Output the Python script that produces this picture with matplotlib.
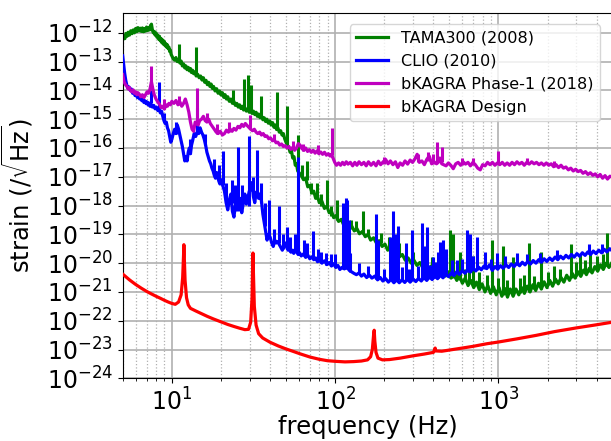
import matplotlib
matplotlib.use("Agg")
import matplotlib.pyplot as plt
import numpy as np

# all strain values are log10(strain / sqrt(Hz)), frequencies in Hz

# TAMA300 (2008) noise floor
tama_f = [5.0, 5.08, 5.16, 5.24, 5.32, 5.4, 5.5, 5.6, 5.7, 5.8, 5.9, 6.0, 6.1, 6.2, 6.3, 6.4,
          6.5, 6.6, 6.7, 6.8, 6.9, 7.0, 7.1, 7.2, 7.3, 7.4, 7.5, 7.6, 7.7, 7.8, 7.9, 8.0, 8.1,
          8.2, 8.3, 8.4, 8.5, 8.6, 8.7, 8.8, 8.9, 9.0, 9.1, 9.2, 9.3, 9.4, 9.5, 9.6, 9.7, 9.8,
          9.9, 10.0, 10.2, 10.4, 10.6, 10.8, 11.0, 11.2, 11.4, 11.6, 11.8, 12.0, 12.2, 12.4,
          12.6, 12.8, 13.0, 13.2, 13.4, 13.6, 13.8, 14.1, 14.4, 14.7, 15.0, 15.3, 15.6, 15.9,
          16.2, 16.5, 16.8, 17.1, 17.4, 17.7, 18.0, 18.4, 18.8, 19.2, 19.6, 20.0, 20.4, 20.8,
          21.2, 21.6, 22.0, 22.5, 23.0, 23.5, 24.0, 24.5, 25.0, 25.5, 26.0, 26.5, 27.0, 27.5,
          28.0, 28.6, 29.2, 29.8, 30.4, 31.0, 31.6, 32.2, 32.8, 33.4, 34.0, 34.7, 35.4, 36.1,
          36.8, 37.5, 38.2, 39.0, 39.8, 40.6, 41.4, 42.2, 43.0, 43.8, 44.6, 45.5, 46.4, 47.3,
          48.2, 49.1, 50.0, 51.0, 52.0, 53.0, 54.0, 55.0, 56.0, 57.0, 58.0, 59.0, 60.0, 62, 64,
          66, 68, 70, 72, 74, 76, 78, 80, 83, 86, 89, 92, 95, 98, 101, 105, 109, 113, 117, 121,
          126, 131, 136, 141, 147, 153, 159, 165, 172, 179, 186, 194, 202, 210, 219, 228, 238,
          248, 258, 269, 280, 292, 304, 317, 330, 344, 358, 373, 388, 404, 420, 437, 455, 474,
          493, 513, 534, 556, 578, 602, 626, 652, 678, 706, 734, 764, 795, 827, 861, 896, 932,
          970, 1009, 1050, 1093, 1137, 1183, 1231, 1281, 1333, 1387, 1443, 1502, 1563, 1626,
          1692, 1761, 1832, 1906, 1984, 2064, 2148, 2235, 2326, 2420, 2518, 2620, 2726, 2837,
          2952, 3071, 3196, 3325, 3460, 3600, 3746, 3898, 4056, 4220, 4391, 4569, 4754, 5000]
tama_h = [-12.25, -12.12, -12.2, -12.02, -12.12, -11.98, -12.08, -11.93, -12.03, -11.9, -12.0,
          -11.85, -11.96, -11.82, -11.93, -11.84, -11.95, -11.83, -11.96, -11.85, -11.94, -11.8,
          -11.92, -11.82, -11.9, -11.75, -11.7, -11.9, -12.0, -11.95, -12.08, -12.0, -12.15,
          -12.08, -12.22, -12.12, -12.28, -12.2, -12.35, -12.25, -12.4, -12.3, -12.45, -12.38,
          -12.5, -12.42, -12.55, -12.5, -12.65, -12.6, -12.75, -12.8, -12.9, -12.95, -12.86,
          -13.0, -12.95, -13.05, -12.98, -13.15, -13.08, -13.22, -13.15, -13.28, -13.2, -13.32,
          -13.24, -13.38, -13.3, -13.42, -13.36, -13.5, -13.44, -13.56, -13.5, -13.64, -13.56,
          -13.72, -13.65, -13.8, -13.72, -13.86, -13.78, -13.93, -13.86, -14.02, -13.94, -14.1,
          -14.02, -14.16, -14.08, -14.24, -14.15, -14.3, -14.22, -14.38, -14.3, -14.45, -14.38,
          -14.52, -14.45, -14.58, -14.5, -14.63, -14.55, -14.68, -14.6, -14.72, -14.64, -14.76,
          -14.68, -14.8, -14.72, -14.84, -14.76, -14.9, -14.82, -14.95, -14.88, -15.02, -14.95,
          -15.08, -15.0, -15.14, -15.06, -15.2, -15.12, -15.28, -15.2, -15.36, -15.3, -15.45,
          -15.4, -15.55, -15.5, -15.68, -15.8, -15.9, -15.98, -16.15, -16.1, -16.35, -16.3,
          -16.6, -16.55, -16.8, -16.85, -16.95, -17.1, -17.05, -17.35, -17.3, -17.55, -17.5,
          -17.75, -17.68, -17.9, -17.85, -18.1, -18.02, -18.25, -18.2, -18.42, -18.35, -18.55,
          -18.48, -18.68, -18.6, -18.78, -18.7, -18.88, -18.8, -18.98, -18.9, -19.08, -19.0,
          -19.2, -19.12, -19.3, -19.22, -19.42, -19.34, -19.55, -19.46, -19.66, -19.58, -19.78,
          -19.7, -19.9, -19.82, -20.0, -19.9, -20.08, -19.98, -20.15, -20.05, -20.22, -20.1,
          -20.3, -20.18, -20.35, -20.22, -20.45, -20.3, -20.52, -20.38, -20.6, -20.45, -20.7,
          -20.52, -20.78, -20.6, -20.85, -20.66, -20.92, -20.72, -21.0, -20.78, -21.05, -20.82,
          -21.1, -20.85, -21.15, -20.88, -21.18, -20.9, -21.15, -20.9, -21.1, -20.85, -21.05,
          -20.8, -21.0, -20.75, -20.95, -20.7, -20.9, -20.65, -20.85, -20.6, -20.8, -20.55,
          -20.72, -20.5, -20.66, -20.42, -20.6, -20.36, -20.52, -20.3, -20.46, -20.24, -20.4,
          -20.18, -20.34, -20.12, -20.28, -20.06, -20.22, -20.0, -20.15, -19.95]
# narrow lines on top of the TAMA300 floor: frequency, bottom, top
tama_spk_f = [11.0, 14.0, 23.7, 27.6, 29.3, 30.5, 35.0, 44.0, 50.8, 59.3, 63, 67.0, 71, 77.5,
              82, 89.0, 95, 103, 112, 125, 135, 148, 160, 190, 215, 245, 300, 340, 390, 430,
              470, 507, 528, 560, 580, 620, 660, 700, 760, 850, 920, 1000, 1060, 1130, 1230,
              1350, 1430, 1530, 1650, 1820, 2000, 2200, 2400, 2770, 3000, 3180, 3400, 3640,
              4000, 4400, 4650]
tama_spk_lo = [-12.95, -13.45, -14.4, -14.6, -14.7, -14.75, -14.9, -15.3, -15.9, -16.4, -17.0,
               -17.1, -17.6, -17.7, -18.0, -18.1, -18.35, -18.5, -18.65, -18.8, -18.9, -19.0,
               -19.05, -19.3, -19.5, -19.7, -20.0, -20.1, -20.2, -20.3, -20.4, -20.45, -20.5,
               -20.55, -20.6, -20.6, -20.7, -20.8, -20.85, -20.9, -21.0, -21.0, -21.1, -21.1,
               -21.1, -21.05, -21.0, -21.0, -20.9, -20.9, -20.75, -20.7, -20.6, -20.5, -20.45,
               -20.4, -20.35, -20.3, -20.25, -20.15, -20.1]
tama_spk_hi = [-12.4, -12.5, -14.0, -13.6, -13.45, -13.8, -14.2, -14.05, -14.55, -15.55,
               -16.6, -16.45, -17.2, -17.2, -17.6, -17.1, -18.0, -17.8, -18.3, -18.5, -18.55,
               -18.2, -18.8, -18.95, -19.1, -19.3, -19.6, -19.7, -19.8, -19.9, -19.95, -18.85,
               -19.0, -20.1, -19.6, -20.2, -20.2, -19.75, -20.3, -20.4, -19.2, -20.5, -19.4,
               -20.6, -19.8, -20.5, -20.4, -19.3, -20.45, -19.6, -20.3, -20.1, -20.2, -19.35,
               -19.95, -19.7, -19.9, -19.6, -19.75, -19.7, -18.95]

# CLIO (2010)
clio_f = [5.0, 5.07, 5.14, 5.22, 5.3, 5.38, 5.47, 5.56, 5.65, 5.75, 5.85, 5.95, 6.05, 6.15,
          6.25, 6.35, 6.45, 6.55, 6.65, 6.75, 6.85, 6.95, 7.05, 7.15, 7.25, 7.35, 7.45, 7.6,
          7.75, 7.9, 8.05, 8.2, 8.35, 8.5, 8.65, 8.8, 8.95, 9.1, 9.25, 9.4, 9.55, 9.7, 9.85,
          10.0, 10.2, 10.4, 10.6, 10.8, 11.0, 11.2, 11.4, 11.6, 11.8, 12.0, 12.2, 12.4, 12.6,
          12.8, 13.0, 13.2, 13.4, 13.7, 14.0, 14.3, 14.6, 14.9, 15.2, 15.5, 15.8, 16.1, 16.4,
          16.7, 17.0, 17.3, 17.6, 17.9, 18.2, 18.5, 18.8, 19.1, 19.4, 19.7, 20.0, 20.5, 21.0,
          21.5, 22.0, 22.5, 23.0, 23.5, 24.0, 24.5, 25.0, 25.6, 26.2, 26.8, 27.4, 28.0, 28.6,
          29.2, 29.8, 30.4, 31.0, 31.6, 32.2, 32.8, 33.4, 34.0, 34.7, 35.4, 36.1, 36.8, 37.5,
          38.3, 39.1, 40.0, 40.9, 41.8, 42.7, 43.6, 44.5, 45.5, 46.5, 47.5, 48.5, 49.5, 50.5,
          51.5, 52.5, 53.6, 54.7, 55.8, 57.0, 58.2, 59.4, 60.6, 62, 64, 66, 68, 70, 72, 74, 76,
          78, 80, 83, 86, 89, 92, 95, 98, 101, 104, 107, 110, 114, 118, 122, 126, 130, 135,
          140, 145, 150, 156, 162, 168, 175, 182, 189, 196, 204, 212, 220, 229, 238, 247, 257,
          267, 277, 288, 300, 312, 324, 337, 350, 364, 378, 393, 408, 424, 441, 458, 476, 495,
          514, 534, 555, 577, 600, 624, 648, 674, 700, 728, 756, 786, 817, 849, 882, 917, 953,
          990, 1030, 1070, 1112, 1156, 1201, 1248, 1297, 1348, 1401, 1456, 1513, 1572, 1634,
          1698, 1765, 1834, 1906, 1981, 2059, 2140, 2224, 2311, 2402, 2496, 2594, 2696, 2802,
          2912, 3026, 3145, 3268, 3397, 3530, 3669, 3813, 3963, 4118, 4280, 4448, 4623, 4804,
          5000]
clio_h = [-12.8, -13.1, -13.4, -13.65, -13.82, -13.92, -13.88, -14.0, -13.95, -14.1, -14.05,
          -14.18, -14.12, -14.25, -14.2, -14.3, -14.24, -14.36, -14.3, -14.42, -14.36, -14.46,
          -14.4, -14.5, -14.44, -14.55, -14.48, -14.58, -14.52, -14.64, -14.58, -14.7, -14.65,
          -14.78, -14.72, -14.9, -15.05, -15.15, -15.1, -15.3, -15.4, -15.6, -15.8, -15.7,
          -15.5, -15.35, -15.5, -15.2, -15.35, -15.55, -15.75, -15.95, -16.2, -16.45, -16.3,
          -16.45, -16.15, -16.0, -16.2, -15.9, -15.75, -15.5, -15.6, -15.45, -15.5, -15.3,
          -15.45, -15.55, -15.7, -15.9, -16.15, -16.3, -16.45, -16.55, -16.7, -16.8, -16.95,
          -17.05, -16.85, -17.0, -17.15, -17.25, -17.1, -17.3, -17.5, -17.9, -18.15, -17.8,
          -17.6, -18.2, -18.4, -18.0, -17.85, -18.1, -17.75, -18.25, -17.9, -17.6, -17.95,
          -17.75, -17.5, -17.45, -17.2, -17.7, -17.9, -17.55, -17.5, -17.75, -17.6, -17.85,
          -18.3, -18.6, -18.9, -19.2, -19.0, -19.1, -19.3, -19.42, -19.2, -19.3, -19.25,
          -19.35, -19.45, -19.55, -19.4, -19.3, -19.45, -19.55, -19.5, -19.62, -19.55, -19.66,
          -19.52, -19.62, -19.7, -19.64, -19.75, -19.68, -19.8, -19.72, -19.85, -19.78, -19.88,
          -19.82, -19.95, -19.88, -20.0, -19.92, -20.05, -19.98, -20.1, -20.02, -20.15, -20.08,
          -20.22, -20.15, -20.2, -20.12, -20.25, -20.3, -20.35, -20.4, -20.34, -20.45, -20.38,
          -20.5, -20.42, -20.52, -20.45, -20.58, -20.5, -20.62, -20.54, -20.66, -20.56, -20.68,
          -20.58, -20.68, -20.58, -20.67, -20.56, -20.66, -20.55, -20.64, -20.53, -20.62,
          -20.5, -20.6, -20.48, -20.57, -20.45, -20.54, -20.42, -20.51, -20.38, -20.47, -20.34,
          -20.43, -20.3, -20.39, -20.26, -20.35, -20.22, -20.31, -20.18, -20.27, -20.14,
          -20.23, -20.1, -20.19, -20.06, -20.25, -20.12, -20.21, -20.09, -20.18, -20.06,
          -20.15, -20.03, -20.12, -20.0, -20.09, -19.97, -20.06, -19.94, -20.03, -19.91, -20.0,
          -19.88, -19.97, -19.85, -19.94, -19.82, -19.91, -19.79, -19.88, -19.76, -19.85,
          -19.73, -19.82, -19.7, -19.79, -19.67, -19.76, -19.64, -19.73, -19.61, -19.7, -19.58,
          -19.67, -19.55, -19.64, -19.52, -19.61, -19.5, -19.58]
clio_spk_f = [7.5, 8.4, 9.0, 10.6, 13.0, 14.3, 16.0, 18.0, 19.5, 20.5, 21.5, 23.3, 24.5, 25.4,
              27.0, 29.7, 31.5, 33.2, 35.0, 37.0, 39.4, 42.5, 45.3, 48.0, 50.8, 53.0, 56.5,
              59.3, 64.5, 67.5, 73.3, 78, 82, 88.1, 95, 100, 112, 116, 118.6, 121, 124, 140,
              160, 178, 182, 200, 217, 227, 232, 243, 255, 270, 285, 297, 320, 341, 357, 366,
              380, 395, 410, 425, 440, 455, 480, 520, 560, 600, 640, 670, 700, 740, 830, 900,
              985, 1100, 1300, 1500, 1800, 2300, 3600, 4300]
clio_spk_lo = [-14.45, -14.65, -15.1, -15.5, -16.2, -15.5, -15.9, -16.9, -17.2, -17.3, -17.9,
               -17.9, -18.2, -18.2, -18.1, -18.0, -17.7, -17.6, -17.9, -18.7, -19.1, -19.3,
               -19.3, -19.5, -19.5, -19.6, -19.6, -19.7, -19.75, -19.8, -19.8, -19.95, -20.0,
               -20.05, -20.1, -20.15, -20.2, -20.2, -20.2, -20.25, -20.3, -20.35, -20.45,
               -20.55, -20.55, -20.6, -20.6, -20.6, -20.6, -20.6, -20.6, -20.6, -20.6, -20.6,
               -20.55, -20.55, -20.5, -20.5, -20.5, -20.5, -20.5, -20.5, -20.45, -20.45,
               -20.4, -20.4, -20.35, -20.3, -20.3, -20.3, -20.25, -20.25, -20.2, -20.2,
               -20.15, -20.1, -20.05, -20.0, -19.95, -19.85, -19.7, -19.65]
clio_spk_hi = [-14.0, -13.7, -14.8, -15.1, -15.7, -14.6, -15.5, -16.4, -16.6, -16.1, -17.2,
               -17.1, -17.3, -15.97, -17.3, -15.6, -17.0, -16.07, -17.2, -17.9, -17.8, -18.8,
               -18.0, -19.0, -18.75, -19.1, -19.0, -16.3, -19.2, -19.3, -18.9, -19.5, -19.6,
               -19.65, -19.7, -19.7, -17.9, -17.75, -17.8, -18.5, -19.65, -20.0, -20.1, -18.3,
               -19.2, -20.2, -19.1, -18.2, -19.0, -18.7, -20.15, -19.3, -20.2, -18.85, -20.1,
               -18.6, -19.4, -18.75, -20.05, -19.8, -19.95, -19.6, -19.25, -19.2, -19.5,
               -19.9, -19.9, -19.85, -18.85, -19.0, -19.75, -19.1, -19.6, -19.85, -19.65,
               -19.75, -19.65, -19.7, -19.65, -19.55, -19.35, -19.35]

# bKAGRA Phase-1 (2018)
kagra1_f = [5.0, 5.1, 5.2, 5.3, 5.4, 5.5, 5.6, 5.7, 5.8, 5.9, 6.0, 6.1, 6.2, 6.3, 6.45, 6.6,
            6.75, 6.9, 7.05, 7.2, 7.35, 7.5, 7.65, 7.8, 8.0, 8.2, 8.4, 8.6, 8.8, 9.0, 9.2,
            9.4, 9.6, 9.8, 10.0, 10.3, 10.6, 10.9, 11.2, 11.5, 11.8, 12.1, 12.4, 12.7, 13.0,
            13.3, 13.6, 13.9, 14.2, 14.5, 14.8, 15.2, 15.6, 16.0, 16.4, 16.8, 17.2, 17.7, 18.2,
            18.7, 19.2, 19.8, 20.4, 21.0, 21.6, 22.2, 22.8, 23.4, 24.0, 24.7, 25.4, 26.1, 26.8,
            27.5, 28.2, 28.9, 29.6, 30.4, 31.2, 32.0, 32.8, 33.6, 34.5, 35.4, 36.3, 37.2, 38.2,
            39.2, 40.2, 41.3, 42.4, 43.5, 44.6, 45.8, 47.0, 48.2, 49.5, 50.8, 52.1, 53.5, 55.0,
            56.5, 58.0, 59.5, 61.0, 62.6, 64.3, 66.0, 67.8, 69.6, 71.5, 73.4, 75.4, 77.4, 79.5,
            81.6, 83.8, 86.1, 88.4, 90.8, 93.2, 95.0, 97.0, 99.5, 102, 105, 108, 111, 114, 117,
            120, 124, 128, 132, 136, 140, 145, 150, 155, 160, 166, 172, 178, 184, 190, 197,
            204, 211, 218, 226, 234, 242, 250, 259, 268, 278, 288, 298, 308, 318, 328, 340,
            352, 364, 377, 390, 404, 418, 428, 438, 450, 462, 478, 494, 511, 529, 548, 567,
            587, 608, 629, 651, 674, 698, 722, 747, 774, 801, 829, 858, 888, 919, 952, 985,
            1020, 1056, 1093, 1131, 1171, 1212, 1255, 1299, 1344, 1392, 1440, 1491, 1544,
            1598, 1654, 1712, 1772, 1834, 1899, 1965, 2034, 2106, 2180, 2256, 2336, 2418,
            2503, 2591, 2682, 2776, 2873, 2974, 3079, 3187, 3299, 3414, 3534, 3658, 3787,
            3920, 4057, 4200, 4347, 4500, 4658, 4822, 5000]
kagra1_h = [-13.45, -13.7, -13.8, -13.85, -13.95, -13.9, -14.02, -14.05, -13.98, -14.1,
            -14.05, -14.15, -14.08, -14.12, -14.22, -14.15, -14.25, -14.15, -14.05, -14.1,
            -13.95, -13.7, -13.95, -14.15, -14.3, -14.4, -14.48, -14.6, -14.55, -14.65,
            -14.5, -14.55, -14.45, -14.5, -14.38, -14.45, -14.35, -14.5, -14.4, -14.55,
            -14.45, -14.3, -14.5, -14.75, -15.1, -15.35, -15.42, -15.1, -15.15, -15.2,
            -15.05, -15.0, -14.9, -15.05, -15.1, -15.0, -15.15, -15.25, -15.35, -15.45,
            -15.5, -15.42, -15.55, -15.5, -15.38, -15.45, -15.35, -15.42, -15.32, -15.38,
            -15.25, -15.3, -15.18, -15.25, -15.15, -15.22, -15.28, -15.35, -15.4, -15.35,
            -15.45, -15.5, -15.45, -15.55, -15.5, -15.6, -15.58, -15.68, -15.65, -15.75,
            -15.72, -15.82, -15.8, -15.9, -15.86, -15.95, -15.92, -16.0, -15.95, -16.05,
            -15.98, -16.08, -16.0, -15.85, -15.9, -16.02, -16.08, -16.0, -16.12, -16.06,
            -16.15, -16.08, -16.18, -16.1, -16.2, -16.14, -16.22, -16.15, -16.25, -16.2,
            -16.28, -16.22, -16.35, -16.5, -16.6, -16.52, -16.6, -16.5, -16.58, -16.48,
            -16.56, -16.5, -16.62, -16.5, -16.6, -16.48, -16.58, -16.5, -16.62, -16.48,
            -16.6, -16.5, -16.62, -16.46, -16.58, -16.48, -16.4, -16.55, -16.45, -16.58,
            -16.48, -16.68, -16.52, -16.6, -16.45, -16.56, -16.42, -16.5, -16.38, -16.22,
            -16.5, -16.45, -16.58, -16.4, -16.28, -16.55, -16.48, -16.55, -16.5, -16.35,
            -16.55, -16.58, -16.62, -16.52, -16.6, -16.72, -16.55, -16.5, -16.6, -16.48,
            -16.56, -16.5, -16.62, -16.5, -16.58, -16.7, -16.76, -16.58, -16.62, -16.5,
            -16.58, -16.5, -16.6, -16.52, -16.58, -16.5, -16.6, -16.52, -16.6, -16.5, -16.58,
            -16.48, -16.56, -16.5, -16.6, -16.5, -16.56, -16.48, -16.55, -16.5, -16.58,
            -16.52, -16.6, -16.52, -16.6, -16.55, -16.65, -16.58, -16.68, -16.6, -16.7,
            -16.66, -16.76, -16.7, -16.8, -16.74, -16.82, -16.78, -16.88, -16.82, -16.92,
            -16.86, -16.95, -16.9, -17.0, -16.92, -17.05, -16.96, -17.08, -16.98, -17.02]
kagra1_spk_f = [7.5, 9.0, 11.0, 14.2, 16.5, 19.0, 22.5, 30.0, 42, 55, 64, 78, 96.0, 200, 320,
                370, 395, 418, 450, 600, 700, 1000, 1500, 2200]
kagra1_spk_lo = [-14.0, -14.65, -14.5, -15.2, -15.1, -15.5, -15.45, -15.3, -15.75, -16.05,
                 -16.1, -16.15, -16.25, -16.55, -16.5, -16.45, -16.55, -16.5, -16.5, -16.6,
                 -16.6, -16.55, -16.55, -16.65]
kagra1_spk_hi = [-13.15, -14.3, -14.2, -13.9, -14.8, -15.15, -15.1, -14.85, -15.5, -15.75,
                 -15.85, -15.9, -15.3, -16.3, -16.2, -16.15, -16.2, -15.8, -15.95, -16.35,
                 -16.35, -16.1, -16.35, -16.45]

# bKAGRA design sensitivity
design_f = [5.0, 5.5, 6.0, 6.5, 7.0, 7.5, 8.0, 8.5, 9.0, 9.5, 10.0, 10.5, 11.0, 11.4, 11.65,
            11.8, 11.85, 11.92, 12.05, 12.3, 12.6, 13.0, 14.0, 15.0, 16.5, 18.0, 20.0, 22.0,
            24.0, 26.0, 28.0, 29.5, 30.4, 31.0, 31.3, 31.4, 31.55, 32.0, 32.8, 34.0, 36.0,
            40.0, 45.0, 50.0, 55.0, 61.0, 70.0, 80.0, 90.0, 100, 115, 130, 145, 158, 165, 169,
            172, 173.5, 175, 178, 183, 195, 215, 250, 300, 350, 400, 407, 410, 413, 450, 500,
            600, 700, 850, 1000, 1300, 1700, 2200, 3000, 4000, 5000]
design_h = [-20.38, -20.58, -20.74, -20.87, -20.98, -21.07, -21.15, -21.22, -21.29, -21.35,
            -21.4, -21.43, -21.35, -21.1, -20.5, -19.7, -19.36, -19.8, -20.6, -21.2, -21.45,
            -21.57, -21.66, -21.74, -21.85, -21.94, -22.04, -22.13, -22.2, -22.26, -22.31,
            -22.3, -22.05, -21.2, -19.9, -19.65, -20.2, -21.5, -22.15, -22.45, -22.6, -22.75,
            -22.88, -22.98, -23.06, -23.15, -23.26, -23.34, -23.39, -23.41, -23.43, -23.42,
            -23.4, -23.36, -23.25, -23.0, -22.5, -22.33, -22.7, -23.1, -23.3, -23.36, -23.35,
            -23.3, -23.22, -23.16, -23.1, -23.0, -22.95, -23.05, -23.06, -23.02, -22.95,
            -22.89, -22.8, -22.74, -22.63, -22.51, -22.38, -22.25, -22.14, -22.05]

labels = ["TAMA300 (2008)", "CLIO (2010)", "bKAGRA Phase-1 (2018)", "bKAGRA Design"]
colors = ["g", "b", "m", "r"]

fig = plt.figure(figsize=(6.11, 4.41), dpi=100)
ax = fig.add_axes([0.2008, 0.1422, 0.8017, 0.829])

curves = [(tama_f, tama_h), (clio_f, clio_h), (kagra1_f, kagra1_h), (design_f, design_h)]
lines = [(tama_spk_f, tama_spk_lo, tama_spk_hi), (clio_spk_f, clio_spk_lo, clio_spk_hi),
         (kagra1_spk_f, kagra1_spk_lo, kagra1_spk_hi), None]
for i, ((f, h), lab, c) in enumerate(zip(curves, labels, colors)):
    ax.loglog(f, 10 ** np.array(h), color=c, lw=2.3, label=lab, zorder=2 + i)
    if lines[i] is not None:
        sf, lo, hi = lines[i]
        ax.vlines(sf, 10 ** np.array(lo), 10 ** np.array(hi), color=c, lw=2.2, zorder=2 + i)

ax.set_xlim(5, 5000)
ax.set_ylim(1e-24, 5e-12)
ax.set_yticks([10.0 ** k for k in range(-24, -11)])
ax.grid(which="major", color="#b0b0b0", lw=1.2)
ax.grid(which="minor", color="#b0b0b0", ls=":", lw=0.9)
ax.tick_params(labelsize=17)
ax.set_xlabel("frequency (Hz)", fontsize=17.5, labelpad=0)
ax.set_ylabel(r"strain ($/\sqrt{\rm Hz}$)", fontsize=17.5)
ax.yaxis.set_label_coords(-0.18, 0.5)
ax.legend(loc="upper right", fontsize=11.5, bbox_to_anchor=(0.99, 0.99))

fig.savefig("out.png", dpi=100)
